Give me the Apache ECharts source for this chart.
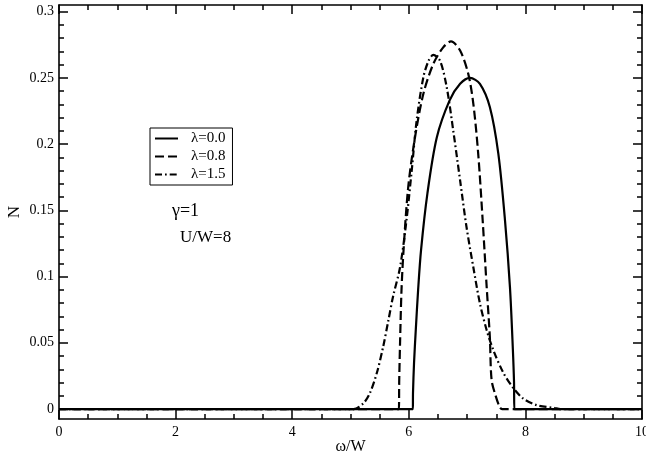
<!DOCTYPE html>
<html>
<head>
<meta charset="utf-8">
<script src="https://cdn.jsdelivr.net/npm/echarts@6/dist/echarts.min.js"></script>
<style>
  html, body { margin: 0; padding: 0; background: #fff; }
  #chart { width: 646px; height: 459px; }
</style>
</head>
<body>
<div id="chart"></div>
<script>
// Spectral density N(ω) for three coupling strengths λ (γ = 1, U/W = 8)
const omegaL00 = [0, 6.07, 6.072, 6.09, 6.12, 6.16, 6.21, 6.32, 6.48, 6.70, 6.88, 7.05, 7.22, 7.39, 7.535, 7.65, 7.735, 7.785, 7.805, 7.81, 10];
const nL00     = [0, 0, 0.012, 0.035, 0.06, 0.09, 0.12, 0.163, 0.205, 0.233, 0.2455, 0.25, 0.2455, 0.228, 0.193, 0.1425, 0.092, 0.045, 0.02, 0, 0];

const omegaL08 = [0, 5.83, 5.835, 5.85, 5.875, 5.91, 5.99, 6.106, 6.25, 6.42, 6.59, 6.724, 6.88, 7.02, 7.107, 7.19, 7.267, 7.336, 7.39, 7.42, 7.49, 7.56, 7.6, 10];
const nL08     = [0, 0, 0.02, 0.05, 0.09, 0.12, 0.1676, 0.205, 0.238, 0.2605, 0.273, 0.2776, 0.2706, 0.253, 0.2304, 0.193, 0.1425, 0.092, 0.0545, 0.022, 0.01, 0.0015, 0, 0];

const omegaL15 = [0, 5.05, 5.22, 5.33, 5.45, 5.56, 5.65, 5.73, 5.85, 5.96, 6.05, 6.135, 6.25, 6.34, 6.42, 6.535, 6.65, 6.763, 6.88, 6.99, 7.107, 7.22, 7.336, 7.45, 7.62, 7.79, 7.96, 8.19, 8.5, 8.6, 10];
const nL15     = [0, 0, 0.0043, 0.0118, 0.027, 0.047, 0.067, 0.085, 0.107, 0.1425, 0.18, 0.218, 0.2505, 0.263, 0.2673, 0.263, 0.243, 0.21, 0.1726, 0.1374, 0.107, 0.0797, 0.0595, 0.0445, 0.0275, 0.016, 0.008, 0.003, 0.0008, 0, 0];

const seriesNames = ['λ=0.0', 'λ=0.8', 'λ=1.5'];
const yMajorTicks = [0, 0.05, 0.1, 0.15, 0.2, 0.25, 0.3];
const yMinorTicks = [0.01, 0.02, 0.03, 0.04, 0.06, 0.07, 0.08, 0.09, 0.11, 0.12, 0.13, 0.14,
                     0.16, 0.17, 0.18, 0.19, 0.21, 0.22, 0.23, 0.24, 0.26, 0.27, 0.28, 0.29];
const xTickLabels = ['0', '2', '4', '6', '8', '10'];

const pairs = (xs, ys) => xs.map((x, i) => [x, ys[i]]);
const FONT = 'Liberation Serif';
const INK = '#000';
const Y_MIN = -0.0075, Y_MAX = 0.305;

const frameLine = { show: true, onZero: false, lineStyle: { color: INK, width: 1.6 } };
const tickLine = { color: INK, width: 1.5 };

// grid 0 carries the frame, labels and major ticks; grid 1 (same box) the minor y ticks
const gridBox = { left: 59, right: 4, top: 5, bottom: 40, containLabel: false, outerBoundsMode: 'none' };

const xBase = {
  type: 'value', min: 0, max: 10, interval: 2, gridIndex: 0,
  splitLine: { show: false },
  axisLine: frameLine,
  axisTick: { inside: true, length: 9, lineStyle: tickLine },
  minorTick: { show: true, splitNumber: 4, length: 5, lineStyle: tickLine }
};
const xAxes = [
  Object.assign({}, xBase, {
    position: 'bottom',
    name: 'ω/W', nameLocation: 'middle', nameGap: 20, nameMoveOverlap: false,
    nameTextStyle: { fontFamily: FONT, fontSize: 16, color: INK },
    axisLabel: { fontFamily: FONT, fontSize: 14, color: INK, margin: 6,
                 formatter: v => xTickLabels[Math.round(v / 2)] }
  }),
  Object.assign({}, xBase, { position: 'top', axisLabel: { show: false } }),
  { type: 'value', min: 0, max: 10, gridIndex: 1, show: false }
];

const yBase = { type: 'value', min: Y_MIN, max: Y_MAX, splitLine: { show: false } };
const yAxes = [
  Object.assign({}, yBase, {
    gridIndex: 0, position: 'left', axisLine: frameLine,
    name: 'N', nameLocation: 'middle', nameGap: 36, nameRotate: 90, nameMoveOverlap: false,
    nameTextStyle: { fontFamily: FONT, fontSize: 17, color: INK },
    axisLabel: { customValues: yMajorTicks, fontFamily: FONT, fontSize: 14, color: INK, margin: 5,
                 formatter: v => String(+v.toFixed(2)) },
    axisTick: { customValues: yMajorTicks, inside: true, length: 9, lineStyle: tickLine }
  }),
  Object.assign({}, yBase, {
    gridIndex: 0, position: 'right', axisLine: frameLine,
    axisLabel: { show: false },
    axisTick: { customValues: yMajorTicks, inside: true, length: 9, lineStyle: tickLine }
  }),
  Object.assign({}, yBase, {
    gridIndex: 1, position: 'left', axisLine: { show: false },
    axisLabel: { show: false },
    axisTick: { customValues: yMinorTicks, inside: true, length: 5, lineStyle: tickLine }
  }),
  Object.assign({}, yBase, {
    gridIndex: 1, position: 'right', axisLine: { show: false },
    axisLabel: { show: false },
    axisTick: { customValues: yMinorTicks, inside: true, length: 5, lineStyle: tickLine }
  })
];

const lineStyles = [
  { color: INK, width: 2.2, type: 'solid' },
  { color: INK, width: 2.2, type: [9, 4] },
  { color: INK, width: 2.2, type: [7, 3, 1.7, 3] }
];
const dataSets = [pairs(omegaL00, nL00), pairs(omegaL08, nL08), pairs(omegaL15, nL15)];

const chart = echarts.init(document.getElementById('chart'), null, { renderer: 'canvas' });
chart.setOption({
  backgroundColor: '#fff',
  animation: false,
  grid: [Object.assign({}, gridBox), Object.assign({}, gridBox)],
  xAxis: xAxes,
  yAxis: yAxes,
  legend: {
    left: 150, top: 128,
    orient: 'vertical',
    backgroundColor: '#fff',
    borderColor: INK, borderWidth: 1,
    padding: [3, 7, 3, 4],
    itemWidth: 23, itemHeight: 14, itemGap: 3,
    itemStyle: { opacity: 0 },
    textStyle: { fontFamily: FONT, fontSize: 15, color: INK, padding: [0, 0, 0, 8] },
    data: seriesNames
  },
  graphic: [
    { type: 'text', left: 172, top: 202,
      style: { text: 'γ=1', font: '18px "Liberation Serif"', fill: INK } },
    { type: 'text', left: 180, top: 229,
      style: { text: 'U/W=8', font: '17px "Liberation Serif"', fill: INK } }
  ],
  series: seriesNames.map((name, i) => ({
    name, type: 'line', xAxisIndex: 0, yAxisIndex: 0,
    data: dataSets[i], symbol: 'none', smooth: 0.3,
    lineStyle: lineStyles[i], itemStyle: { color: INK }
  }))
});
</script>
</body>
</html>
